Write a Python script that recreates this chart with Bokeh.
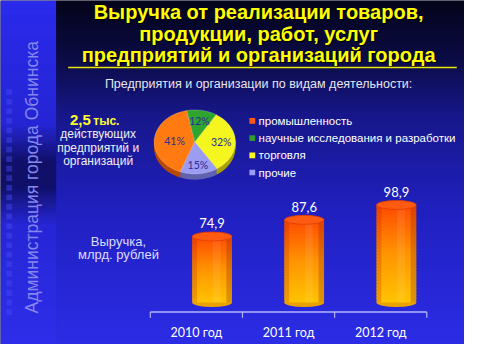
import math
from bokeh.plotting import figure
from bokeh.models import Range1d
from bokeh.core.properties import value
from bokeh.embed import file_html
from bokeh.resources import INLINE

# ---------------- data ----------------
title_lines = ["Выручка от реализации товаров,",
               "продукции, работ, услуг",
               "предприятий и организаций города"]
subtitle = "Предприятия и организации по видам деятельности:"
side_label = "Администрация города Обнинска"
count_value = "2,5"
count_unit = "тыс."
count_lines = ["действующих", "предприятий и", "организаций"]

pie_categories = ["промышленность", "научные исследования и разработки",
                  "торговля", "прочие"]
pie_shares = [41, 12, 32, 15]
pie_labels = ["41%", "12%", "32%", "15%"]

years = ["2010 год", "2011 год", "2012 год"]
revenue = [74.9, 87.6, 98.9]
revenue_labels = ["74,9", "87,6", "98,9"]
axis_title = ["Выручка,", "млрд. рублей"]

# ---------------- styles ----------------
pie_colors = ["#ff7a10", "#2fa52f", "#f5f520", "#9c9cf2"]
pie_side_colors = ["#b84a00", "#1c6a1c", "#a8a000", "#6262b0"]
legend_colors = ["#ff5a14", "#2f9a2f", "#ffff20", "#9c9cf2"]
FONT = value("Liberation Sans")
NUMFONT = value("Lato")


def hex2rgb(h):
    h = h.lstrip("#")
    return tuple(int(h[i:i + 2], 16) for i in (0, 2, 4))


def grad(stops, t):
    for (t0, c0), (t1, c1) in zip(stops[:-1], stops[1:]):
        if t0 <= t <= t1:
            f = 0 if t1 == t0 else (t - t0) / (t1 - t0)
            a, b = hex2rgb(c0), hex2rgb(c1)
            return "#%02x%02x%02x" % tuple(int(round(a[k] + (b[k] - a[k]) * f)) for k in range(3))
    return stops[-1][1]


W, H = 480, 360
p = figure(width=464, height=344, x_range=Range1d(0, W), y_range=Range1d(H, 0),
           output_backend="svg", toolbar_location=None, min_border=0,
           x_axis_location=None, y_axis_location=None)
p.grid.visible = False
p.outline_line_color = None
p.background_fill_color = "#05051a"
p.border_fill_color = "#05051a"

# ---------------- background ----------------
main_stops = [(0, "#04041a"), (60, "#0b0b45"), (120, "#17178a"),
              (220, "#2020c0"), (360, "#2c2ce6")]
strip_stops = [(0, "#2a2aec"), (130, "#2525d4"), (168, "#10106a"),
               (195, "#10106a"), (235, "#2626d6"), (360, "#2e2eea")]
STRIP = 57
step = 2
ys = list(range(0, H, step))
p.quad(left=STRIP, right=W, top=ys, bottom=[y + step + 1 for y in ys],
       fill_color=[grad(main_stops, y + 1) for y in ys], line_color=None)
p.quad(left=0, right=STRIP + 0.5, top=ys, bottom=[y + step + 1 for y in ys],
       fill_color=[grad(strip_stops, y + 1) for y in ys], line_color=None)
sq = list(range(96, 335, 10))
p.rect(x=9, y=sq, width=6, height=6, fill_color="#4a4af4", fill_alpha=0.45,
       line_color=None)
p.text(x=[33], y=[185], text=[side_label], angle=math.pi / 2,
       text_align="center", text_baseline="middle", text_font=FONT,
       text_font_size="17.5px", text_color="#8686ee")

# ---------------- title ----------------
title_y = [12, 35, 57]
p.text(x=[268.5] * 3, y=[y + 1.5 for y in title_y], text=title_lines,
       text_align="center", text_baseline="middle", text_font=FONT,
       text_font_size="20px", text_font_style="bold", text_color="#000000")
p.text(x=[267] * 3, y=title_y, text=title_lines,
       text_align="center", text_baseline="middle", text_font=FONT,
       text_font_size="20px", text_font_style="bold", text_color="#ffff00")
p.line(x=[70, 472], y=[70, 70], line_color="#e6e600", line_width=1.5)
p.text(x=[267], y=[87], text=[subtitle], text_align="center",
       text_baseline="middle", text_font=FONT, text_font_size="12.5px",
       text_color="#e6e6ee")

# ---------------- left block ----------------
p.text(x=[93.5], y=[125], text=[count_value], text_align="right",
       text_baseline="middle", text_font=FONT, text_font_size="15px",
       text_font_style="bold", text_color="#ffff30")
p.text(x=[96], y=[126], text=[count_unit], text_align="left",
       text_baseline="middle", text_font=FONT, text_font_size="12px",
       text_font_style="bold", text_color="#ffff30")
p.text(x=[101] * 3, y=[140, 154, 168], text=count_lines, text_align="center",
       text_baseline="middle", text_font=FONT, text_font_size="12px",
       text_color="#f0f0f0")

# ---------------- pie ----------------
cx, cy, rx, ry, depth = 201, 148, 42, 33.5, 6
start_deg = 201
total = sum(pie_shares)
slices = []
a = start_deg
for s in pie_shares:
    span = 360.0 * s / total
    slices.append((a, a + span))
    a += span


def wedge_pts(a0, a1, dy=0.0):
    n = max(4, int((a1 - a0) / 3))
    xs, ys_ = [cx], [cy + dy]
    for k in range(n + 1):
        t = math.radians(a0 + (a1 - a0) * k / n)
        xs.append(cx + rx * math.sin(t))
        ys_.append(cy + dy - ry * math.cos(t))
    return xs, ys_


for d in range(depth, 0, -1):
    xs_l, ys_l = [], []
    for a0, a1 in slices:
        xx, yy = wedge_pts(a0, a1, d)
        xs_l.append(xx)
        ys_l.append(yy)
    p.patches(xs=xs_l, ys=ys_l, fill_color=pie_side_colors, line_color=None)

xs_l, ys_l = [], []
for a0, a1 in slices:
    xx, yy = wedge_pts(a0, a1)
    xs_l.append(xx)
    ys_l.append(yy)
p.patches(xs=xs_l, ys=ys_l, fill_color=pie_colors, line_color="#ffffff",
          line_alpha=0.35, line_width=0.6)

lab_r = [0.5, 0.65, 0.65, 0.72]
lx, ly = [], []
for (a0, a1), r in zip(slices, lab_r):
    t = math.radians((a0 + a1) / 2)
    lx.append(cx + rx * r * math.sin(t))
    ly.append(cy - ry * r * math.cos(t))
p.text(x=lx, y=ly, text=pie_labels, text_align="center", text_baseline="middle",
       text_font=NUMFONT, text_font_size="10.5px", text_color="#2c2c96")

# legend
leg_y = [126 + 18 * i for i in range(len(pie_categories))]
p.rect(x=260.5, y=leg_y, width=6, height=6, fill_color=legend_colors,
       line_color=None)
p.text(x=267, y=leg_y, text=pie_categories, text_align="left",
       text_baseline="middle", text_font=FONT, text_font_size="11.5px",
       text_color="#ffffff")

# ---------------- bars ----------------
axis_left, axis_right = 155, 441
unit = (axis_right - axis_left) / len(years)
floor_px, ppu, floor_val = 316, 1.375, 24.7
p.extra_x_ranges = {"cat": Range1d(-axis_left / unit, (W - axis_left) / unit)}
p.extra_y_ranges = {"rev": Range1d(floor_val - (H - floor_px) / ppu,
                                   floor_val + floor_px / ppu)}

bar_shift, bar_w = 0.17, 0.43
bx = [i + 0.5 + bar_shift for i in range(len(years))]
body_stops = [(0, "#ffc400"), (0.5, "#ff9400"), (1, "#ff4a00")]
N = 30
L, R, B, T, C = [], [], [], [], []
for x, v in zip(bx, revenue):
    dv = (v - floor_val) / N
    for k in range(N):
        b = floor_val + dv * k
        t = min(v, b + dv * 1.6)
        L.append(x - bar_w / 2)
        R.append(x + bar_w / 2)
        B.append(b)
        T.append(t)
        C.append(grad(body_stops, (k + 0.5) / N))

p.ellipse(x=bx, y=[floor_val] * len(bx), width=bar_w, height=9,
          height_units="screen", fill_color="#eaa200", line_color=None,
          x_range_name="cat", y_range_name="rev")
p.quad(left=L, right=R, bottom=B, top=T, fill_color=C, line_color=None,
       x_range_name="cat", y_range_name="rev")
# side shading
shade_specs = [(-0.5, -0.38, "#b01800", 0.22), (0.36, 0.5, "#8a3000", 0.3),
               (0.02, 0.22, "#ffffff", 0.08)]
for f0, f1, col, al in shade_specs:
    p.quad(left=[x + f0 * bar_w for x in bx], right=[x + f1 * bar_w for x in bx],
           bottom=[floor_val] * len(bx), top=revenue, fill_color=col,
           fill_alpha=al, line_color=None, x_range_name="cat", y_range_name="rev")
p.ellipse(x=bx, y=revenue, width=bar_w, height=9, height_units="screen",
          fill_color="#ff5a12", line_color="#e03c00", line_width=0.8,
          x_range_name="cat", y_range_name="rev")
p.text(x=bx, y=revenue, text=revenue_labels, y_offset=-8, text_align="center",
       text_baseline="bottom", text_font=NUMFONT, text_font_size="13px",
       text_color="#ffffff", x_range_name="cat", y_range_name="rev")

# category axis
n = len(years)
p.line(x=[0, n], y=[326, 326], line_color="#b4b4ff", line_width=1.5,
       x_range_name="cat")
p.segment(x0=list(range(n + 1)), y0=326, x1=list(range(n + 1)), y1=332,
          line_color="#b4b4ff", line_width=1.2, x_range_name="cat")
p.text(x=[i + 0.5 for i in range(n)], y=347, text=years, text_align="center",
       text_baseline="middle", text_font=NUMFONT, text_font_size="12.5px",
       text_color="#ffffff", x_range_name="cat")

p.text(x=[122] * 2, y=[252, 266], text=axis_title, text_align="center",
       text_baseline="middle", text_font=FONT, text_font_size="13px",
       text_color="#dcdcff")

open("out.html", "w").write(file_html(p, INLINE))
